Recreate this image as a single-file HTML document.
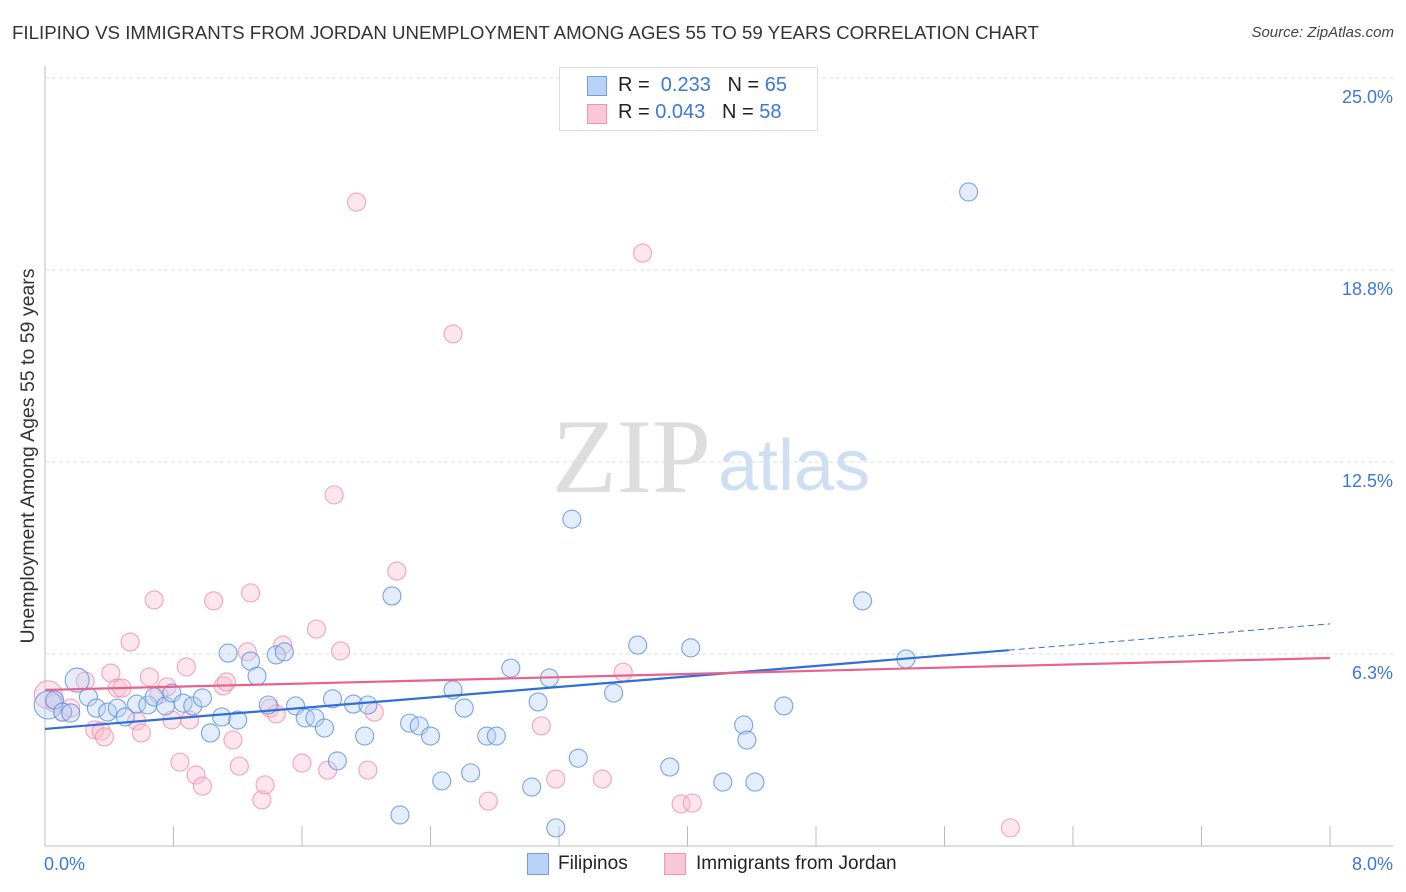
<!DOCTYPE html>
<html><head><meta charset="utf-8"><style>
body{margin:0;background:#fff;font-family:"Liberation Sans",sans-serif;}
#wrap{position:relative;width:1406px;height:892px;overflow:hidden;}
.t{position:absolute;white-space:nowrap;}
</style></head><body>
<div id="wrap">
<div class="t" style="left:12px;top:22px;font-size:18.7px;color:#333;">FILIPINO VS IMMIGRANTS FROM JORDAN UNEMPLOYMENT AMONG AGES 55 TO 59 YEARS CORRELATION CHART</div>
<div class="t" style="right:12px;top:24px;font-size:15px;color:#444;font-style:italic;">Source: ZipAtlas.com</div>
<svg id="svg" width="1406" height="892" style="position:absolute;left:0;top:0">
<text x="552" y="492" font-family="Liberation Serif,serif" font-size="106" fill="#ddd">ZIP</text>
<text x="718" y="490" font-family="Liberation Sans,sans-serif" font-size="72" fill="#cfdff3">atlas</text>
<text transform="translate(34,456) rotate(-90)" text-anchor="middle" font-size="19.5" fill="#333">Unemployment Among Ages 55 to 59 years</text>
</svg>
<div class="t" style="left:559px;top:67px;width:257px;height:62px;border:1px solid #ddd;background:#fff;font-size:20px;color:#222;">
<div style="position:absolute;left:27px;top:8px;width:18px;height:18px;background:#b8d3f5;border:1px solid #6f9fe0"></div>
<div class="t" style="left:58px;top:6px">R = &nbsp;<span style="color:#3b78d8">0.233</span> &nbsp;&nbsp;N = <span style="color:#3b78d8">65</span></div>
<div style="position:absolute;left:27px;top:36px;width:18px;height:18px;background:#f9c7d5;border:1px solid #ee94ae"></div>
<div class="t" style="left:58px;top:33px">R = <span style="color:#3b78d8">0.043</span> &nbsp;&nbsp;N = <span style="color:#3b78d8">58</span></div>
</div>
<div style="position:absolute;left:527px;top:853px;width:20px;height:20px;background:#b8d3f5;border:1px solid #6f9fe0"></div>
<div class="t" style="left:558px;top:853px;font-size:19px;color:#222">Filipinos</div>
<div style="position:absolute;left:664px;top:853px;width:20px;height:20px;background:#f9c7d5;border:1px solid #ee94ae"></div>
<div class="t" style="left:696px;top:853px;font-size:19px;color:#222">Immigrants from Jordan</div>
</div>
<script>
const yTicks=[25.0,18.8,12.5,6.3];
const yTickLabels=["25.0%","18.8%","12.5%","6.3%"];
const xTickLabels=["0.0%","8.0%"];
const blueX=[0.02,0.06,0.11,0.16,0.20,0.27,0.32,0.39,0.45,0.50,0.57,0.64,0.68,0.75,0.79,0.86,0.92,0.98,1.03,1.10,1.14,1.20,1.28,1.32,1.39,1.44,1.49,1.56,1.62,1.68,1.74,1.79,1.82,1.92,1.99,2.01,2.16,2.21,2.27,2.33,2.40,2.47,2.54,2.61,2.65,2.75,2.81,2.90,3.03,3.07,3.14,3.18,3.28,3.32,3.54,3.69,3.89,4.02,4.22,4.35,4.37,4.42,4.60,5.09,5.36,5.75];
const blueY=[4.59,4.75,4.36,4.33,5.40,4.85,4.49,4.36,4.49,4.20,4.62,4.59,4.85,4.56,4.98,4.65,4.56,4.82,3.68,4.20,6.28,4.10,6.02,5.53,4.59,6.22,6.32,4.56,4.17,4.17,3.84,4.79,2.77,4.62,3.58,4.59,8.14,1.01,4.00,3.91,3.58,2.12,5.08,4.49,2.38,3.58,3.58,5.79,1.92,4.69,5.47,0.59,10.64,2.86,4.98,6.54,2.57,6.45,2.08,3.94,3.45,2.08,4.56,7.98,6.09,21.29];
const pinkX=[0.02,0.06,0.11,0.16,0.25,0.31,0.35,0.37,0.41,0.45,0.48,0.53,0.57,0.60,0.65,0.68,0.71,0.76,0.79,0.84,0.88,0.90,0.94,0.98,1.05,1.11,1.13,1.17,1.21,1.26,1.28,1.35,1.37,1.40,1.44,1.48,1.60,1.69,1.76,1.80,1.84,1.94,2.01,2.05,2.19,2.54,2.76,3.09,3.18,3.47,3.60,3.72,3.96,4.03,6.01];
const pinkY=[4.92,4.65,4.36,4.49,5.37,3.78,3.74,3.55,5.63,5.14,5.14,6.64,4.07,3.68,5.50,8.01,4.92,5.18,4.10,2.73,5.83,4.10,2.31,1.95,7.98,5.21,5.34,3.45,2.60,6.32,8.24,1.50,1.99,4.49,4.30,6.54,2.70,7.06,2.47,11.43,6.35,20.96,2.47,4.36,8.95,16.67,1.46,3.91,2.18,2.18,5.66,19.30,1.37,1.40,0.59];
const blueTrend=[3.81,7.23];
const pinkTrend=[5.08,6.12];
const L=45,R=1330,T=78,B=846,XMAX=8,YMAX=25;
const sx=v=>L+v/XMAX*(R-L), sy=v=>B-v/YMAX*(B-T);
const svg=document.getElementById('svg');const NS='http://www.w3.org/2000/svg';
function mk(tag,a){const e=document.createElementNS(NS,tag);for(const k in a)e.setAttribute(k,a[k]);svg.appendChild(e);return e;}
let e=mk('line',{x1:L,y1:66,x2:L,y2:B,stroke:'#bbb','stroke-width':1});


e=mk('line',{x1:L,y1:B,x2:1393,y2:B,stroke:'#bbb','stroke-width':1});


for(let i=1;i<=10;i++){const x=sx(i*0.8);e=mk('line',{x1:x,y1:826,x2:x,y2:B,stroke:'#bbb'});

}
yTicks.forEach((v,i)=>{const yy=B-(B-T)*[1,0.75,0.5,0.25][i];
e=mk('line',{x1:L,y1:yy,x2:1393,y2:yy,stroke:'#ddd','stroke-dasharray':'4,3'});


const t=mk('text',{x:1393,y:yy+25,'text-anchor':'end','font-size':18,fill:'#3b78d8'});t.textContent=yTickLabels[i];

});
xTickLabels.forEach((s,i)=>{const t=mk('text',{x:i==0?44:1393,y:870,'text-anchor':i==0?'start':'end','font-size':18,fill:'#3b78d8'});t.textContent=s;

});
function pts(X,Y,fill,stroke,name){X.forEach((x,i)=>{const r=i==0?14:(i==4&&name=='filipino-point')?12:9;
const c=mk('circle',{cx:sx(x),cy:sy(Y[i]),r:r,fill:fill,'fill-opacity':0.4,stroke:stroke,'stroke-opacity':0.8,'stroke-width':1.1});

});}
pts(pinkX,pinkY,'#f9c0d2','#ee8fab','jordan-point');
pts(blueX,blueY,'#b8d3f5','#5b8fdc','filipino-point');
const bx=6.0, byAt=blueTrend[0]+(blueTrend[1]-blueTrend[0])*bx/XMAX;
e=mk('line',{x1:sx(0),y1:sy(blueTrend[0]),x2:sx(bx),y2:sy(byAt),stroke:'#2f6fd6','stroke-width':2.2});


e=mk('line',{x1:sx(bx),y1:sy(byAt),x2:sx(XMAX),y2:sy(blueTrend[1]),stroke:'#2f6fd6','stroke-width':1,'stroke-dasharray':'6,4'});


e=mk('line',{x1:sx(0),y1:sy(pinkTrend[0]),x2:sx(XMAX),y2:sy(pinkTrend[1]),stroke:'#e8628d','stroke-width':2.2});


</script>
</body></html>
